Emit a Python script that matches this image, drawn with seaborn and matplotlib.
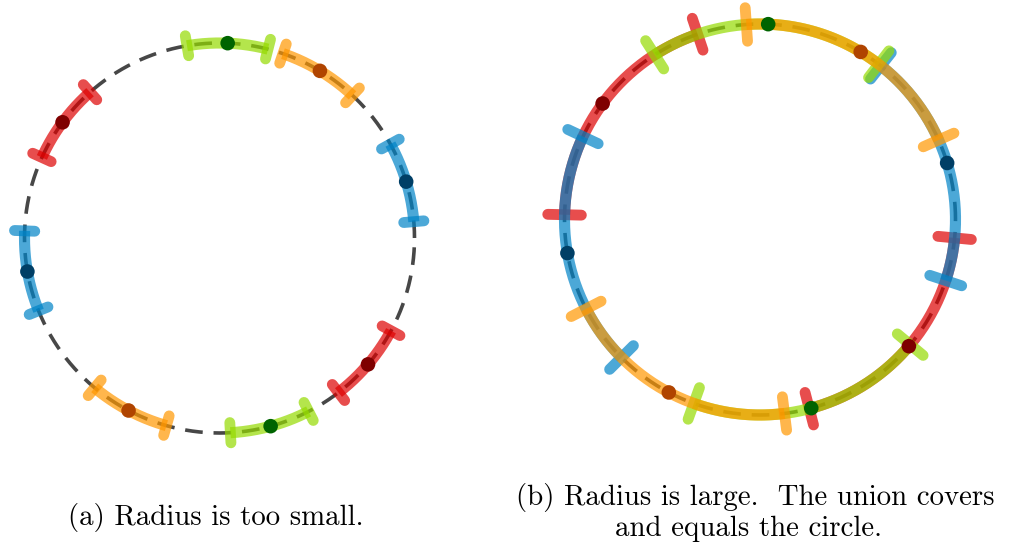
import numpy as np
import matplotlib
matplotlib.use("Agg")
import matplotlib.pyplot as plt
import seaborn as sns

# ---- data ----
point_angles_deg = [87.6, 59.0, 16.8, -40.4, -74.8, -117.8, -170.1, 143.6]
point_groups = ["green", "orange", "blue", "red", "green", "orange", "blue", "red"]
radius_small_deg = 12.0
radius_large_deg = 35.0
caption_a = "(a) Radius is too small."
caption_b1 = "(b) Radius is large.  The union covers"
caption_b2 = "and equals the circle."

# ---- styles ----
arc_colors = {"green": "#95db00", "orange": "#ff9700", "blue": "#0083c7", "red": "#de0101"}
dot_colors = {"green": "#006400", "orange": "#b04400", "blue": "#003f66", "red": "#7f0000"}
draw_order = ["red", "blue", "green", "orange"]
ALPHA = 0.7

sns.set_theme(style="white")
plt.rcParams["font.family"] = ["cmr10", "DejaVu Serif"]
plt.rcParams["axes.formatter.use_mathtext"] = True

W, H = 1012, 548
fig = plt.figure(figsize=(W / 100, H / 100), dpi=100)


def make_ax(cx, cy, r_px, lim=1.13):
    half = lim * r_px
    ax = fig.add_axes([(cx - half) / W, (H - cy - half) / H, 2 * half / W, 2 * half / H])
    ax.set_xlim(-lim, lim)
    ax.set_ylim(-lim, lim)
    ax.set_aspect("equal")
    ax.axis("off")
    return ax


def draw_panel(ax, rad_deg, tick_half):
    t = np.linspace(0, 2 * np.pi, 721)
    circ = sns.lineplot(x=np.cos(t), y=np.sin(t), sort=False, estimator=None, ax=ax,
                        color="#474747", linewidth=2.6, zorder=1)
    circ.lines[-1].set_dashes([4.9, 3.0])
    z = 2
    for grp in draw_order:
        for ang, g in zip(point_angles_deg, point_groups):
            if g != grp:
                continue
            a0 = np.deg2rad(ang - rad_deg)
            a1 = np.deg2rad(ang + rad_deg)
            s = np.linspace(a0, a1, 200)
            ax.plot(np.cos(s), np.sin(s), color=arc_colors[g], alpha=ALPHA, lw=8.0,
                    solid_capstyle="butt", zorder=z, clip_on=False)
            for e in (a0, a1):
                rr = np.array([1 - tick_half, 1 + tick_half])
                ax.plot(rr * np.cos(e), rr * np.sin(e), color=arc_colors[g], alpha=ALPHA,
                        lw=7.8, solid_capstyle="round", zorder=z, clip_on=False)
        z += 1
    xs = np.cos(np.deg2rad(point_angles_deg))
    ys = np.sin(np.deg2rad(point_angles_deg))
    sns.scatterplot(x=xs, y=ys, hue=point_groups, palette=dot_colors, s=110,
                    linewidth=0, legend=False, ax=ax, zorder=20, clip_on=False)


ax1 = make_ax(219.5, 238, 195)
draw_panel(ax1, radius_small_deg, 0.052)
ax2 = make_ax(760, 219.5, 195.5)
draw_panel(ax2, radius_large_deg, 0.086)

fs = 20.8
fig.text(216 / W, 1 - 525.5 / H, caption_a, ha="center", va="baseline", fontsize=fs, color="black")
fig.text(755 / W, 1 - 505 / H, caption_b1, ha="center", va="baseline", fontsize=fs, color="black")
fig.text(749 / W, 1 - 535.5 / H, caption_b2, ha="center", va="baseline", fontsize=fs, color="black")

fig.savefig("out.png", dpi=100, facecolor="white")
